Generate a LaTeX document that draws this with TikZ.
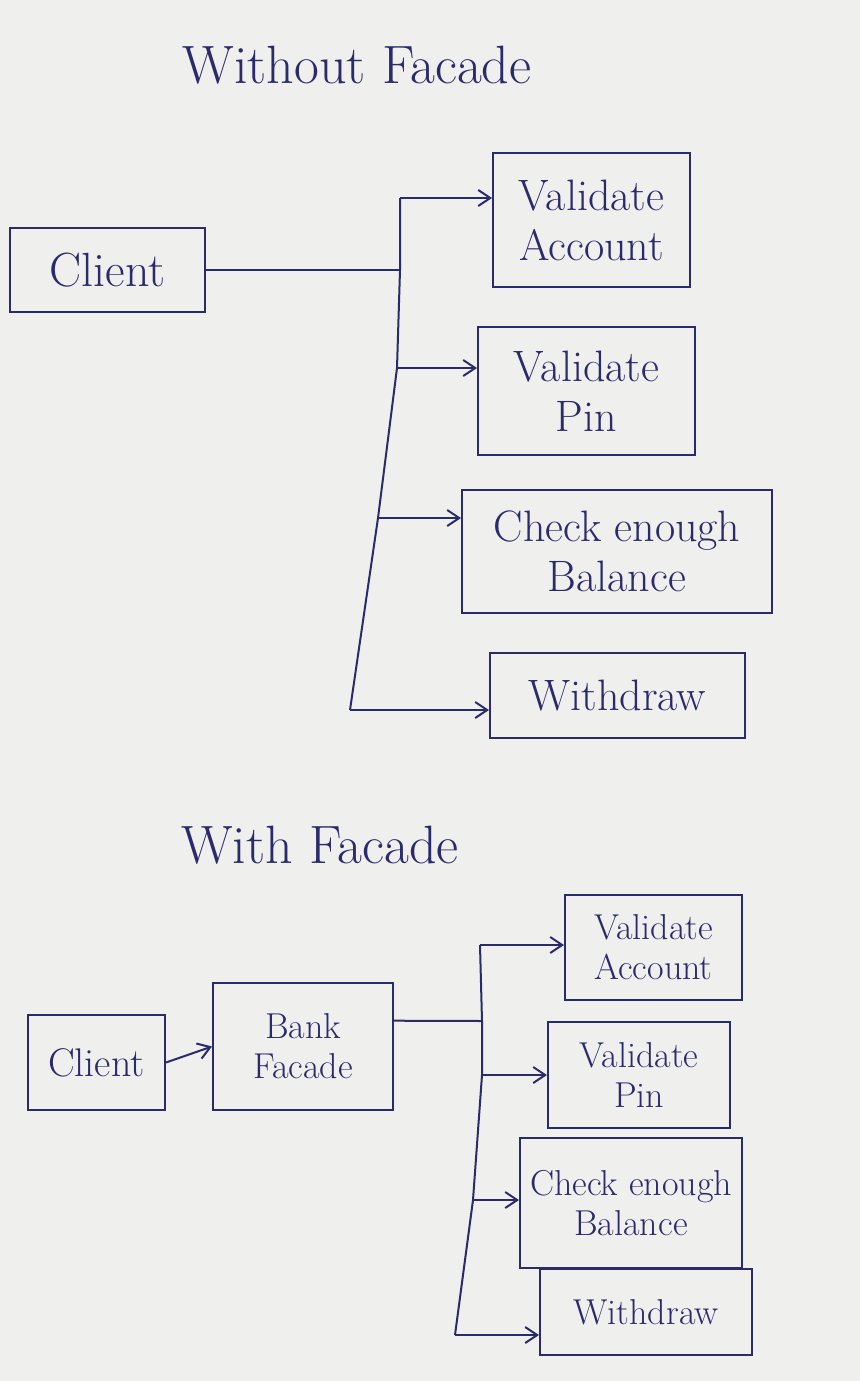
\documentclass[tikz,border=0pt]{standalone}
\usetikzlibrary{arrows.meta,calc}
\definecolor{ink}{HTML}{2B2A6B}
\definecolor{paper}{HTML}{EFEFEE}
\begin{document}
\begin{tikzpicture}[x=0.5pt,y=-0.5pt,
  ink line/.style={draw=ink,line width=1pt},
  box/.style={ink line,rectangle,align=center,text=ink,inner sep=2pt},
  bigtext/.style={font=\fontsize{22}{25}\selectfont},
  smalltext/.style={font=\fontsize{18}{20}\selectfont},
  title/.style={text=ink,font=\fontsize{27}{30}\selectfont},
  conn/.style={ink line},
  arr/.style={ink line,-{Straight Barb[length=6pt,width=8pt]}}
]
\fill[paper] (0,0) rectangle (860,1381);
\useasboundingbox (0,0) rectangle (860,1381);

% ---------- Without Facade ----------
\node[title] (t1) at (357,65) {Without Facade};

\node[box,font=\fontsize{24}{27}\selectfont,minimum width=97.5pt,minimum height=42pt] (client1) at (107.5,270) {Client};
\node[box,bigtext,minimum width=98.5pt,minimum height=67pt] (va1) at (591.5,220) {Validate\\Account};
\node[box,bigtext,minimum width=108.5pt,minimum height=64pt] (vp1) at (586.5,391) {Validate\\Pin};
\node[box,bigtext,minimum width=155pt,minimum height=61.5pt] (cb1) at (617,551.5) {Check enough\\Balance};
\node[box,bigtext,minimum width=127.5pt,minimum height=42.5pt] (wd1) at (617.5,695.5) {Withdraw};

\coordinate (a1) at (400,198);
\coordinate (aj) at (400,270);
\coordinate (a2) at (397,368);
\coordinate (a3) at (378,518);
\coordinate (a4) at (350,710);

\draw[conn] (client1.east) -- (aj);
\draw[conn] (a1) -- (aj) -- (a2) -- (a3) -- (a4);
\draw[arr] (a1) -- (va1.west |- a1);
\draw[arr] (a2) -- (vp1.west |- a2);
\draw[arr] (a3) -- (cb1.west |- a3);
\draw[arr] (a4) -- (wd1.west |- a4);

% ---------- With Facade ----------
\node[title] (t2) at (320,845) {With Facade};

\node[box,font=\fontsize{20}{22}\selectfont,minimum width=68.5pt,minimum height=47.5pt] (client2) at (96.5,1062.5) {Client};
\node[box,smalltext,minimum width=90pt,minimum height=63.5pt] (bf) at (303,1046.5) {Bank\\Facade};
\node[box,smalltext,minimum width=88.5pt,minimum height=52.5pt] (va2) at (653.5,947.5) {Validate\\Account};
\node[box,smalltext,minimum width=91pt,minimum height=53pt] (vp2) at (639,1075) {Validate\\Pin};
\node[box,smalltext,minimum width=111pt,minimum height=65pt] (cb2) at (631,1203) {Check enough\\Balance};
\node[box,smalltext,minimum width=106pt,minimum height=43pt] (wd2) at (646,1312) {Withdraw};

\draw[arr] (client2.east) -- (bf.west);

\coordinate (bfo) at ($(bf.north east)!0.3!(bf.south east)$);
\coordinate (b1) at (480,945);
\coordinate (bj) at (482,1021);
\coordinate (b2) at (482,1075);
\coordinate (b3) at (473,1200);
\coordinate (b4) at (455,1335);

\draw[conn] (bfo) -- (bj);
\draw[conn] (b1) -- (bj) -- (b2) -- (b3) -- (b4);
\draw[arr] (b1) -- (va2.west |- b1);
\draw[arr] (b2) -- (vp2.west |- b2);
\draw[arr] (b3) -- (cb2.west |- b3);
\draw[arr] (b4) -- (wd2.west |- b4);
\end{tikzpicture}
\end{document}
